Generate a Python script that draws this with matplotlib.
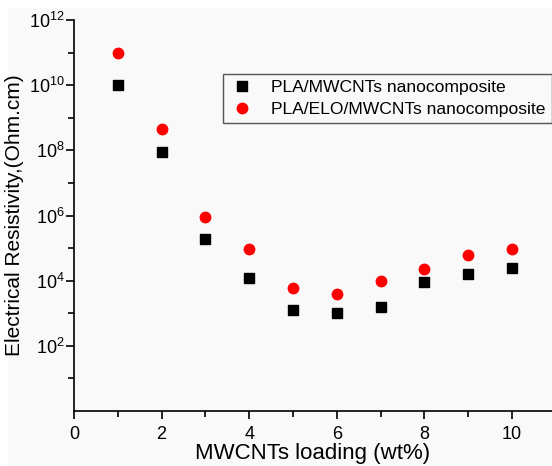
import matplotlib
matplotlib.use("Agg")
import matplotlib.pyplot as plt
from matplotlib.patches import Rectangle
from matplotlib.ticker import FixedLocator, FixedFormatter, MultipleLocator

plt.rcParams['font.family'] = ['Liberation Sans', 'DejaVu Sans']
plt.rcParams['mathtext.fontset'] = 'custom'
plt.rcParams['mathtext.rm'] = 'Liberation Sans'
plt.rcParams['mathtext.it'] = 'Liberation Sans'
plt.rcParams['mathtext.default'] = 'regular'

loading = [1, 2, 3, 4, 5, 6, 7, 8, 9, 10]
pla_mwcnt = [1.0e10, 8.7e7, 1.9e5, 1.2e4, 1.25e3, 1.0e3, 1.6e3, 9.3e3, 1.6e4, 2.5e4]
pla_elo_mwcnt = [1.0e11, 4.4e8, 9.3e5, 9.3e4, 6.1e3, 3.8e3, 1.0e4, 2.3e4, 6.1e4, 9.3e4]
ytick_vals = [1e2, 1e4, 1e6, 1e8, 1e10, 1e12]
ytick_labels = ['10$^{2}$', '10$^{4}$', '10$^{6}$', '10$^{8}$', '10$^{10}$', '10$^{12}$']

W, H = 552, 466
fig = plt.figure(figsize=(W/100, H/100), dpi=100, facecolor='white')
fig.patches.append(Rectangle((8/W, 0), 1, 1 - 8/H, transform=fig.transFigure,
                             facecolor='#f9f9f9', edgecolor='none', zorder=-10))
ax = fig.add_axes([74/W, (H-411)/H, (W-74)/W, (411-20)/H])
ax.patch.set_visible(False)

ax.plot(loading, pla_mwcnt, linestyle='none', marker='s', markersize=6.5,
        color='black', label='PLA/MWCNTs nanocomposite')
ax.plot(loading, pla_elo_mwcnt, linestyle='none', marker='o', markersize=7.5,
        color='red', markeredgecolor='red', label='PLA/ELO/MWCNTs nanocomposite')

ax.set_yscale('log')
ax.set_ylim(1e0, 1e12)
ax.set_xlim(0, (W-74)/43.8)

ax.yaxis.set_major_locator(FixedLocator(ytick_vals))
ax.yaxis.set_major_formatter(FixedFormatter(ytick_labels))
ax.yaxis.set_minor_locator(FixedLocator([1e1, 1e3, 1e5, 1e7, 1e9, 1e11]))
ax.yaxis.set_minor_formatter(FixedFormatter([]))
ax.xaxis.set_major_locator(MultipleLocator(2))
ax.xaxis.set_minor_locator(MultipleLocator(1))

for s in ['top', 'right']:
    ax.spines[s].set_visible(False)
for s in ['left', 'bottom']:
    ax.spines[s].set_linewidth(1.2)

ax.tick_params(which='major', direction='out', length=6, width=1.2, labelsize=13)
ax.tick_params(axis='x', which='major', pad=5)
ax.tick_params(axis='y', which='major', pad=0.5)
ax.tick_params(which='minor', direction='out', length=4, width=1.2)

ax.set_xlabel('MWCNTs loading (wt%)', fontsize=16, labelpad=0)
ax.set_ylabel('Electrical Resistivity,(Ohm.cm)', fontsize=15, labelpad=4)

leg = ax.legend(loc='upper left', bbox_to_anchor=(223/W, 1 - 74/H),
                bbox_transform=fig.transFigure, fontsize=12.6, frameon=True,
                fancybox=False, edgecolor='#555555', framealpha=1,
                handletextpad=0.9, borderpad=0.35, labelspacing=0.35,
                handlelength=1.5, borderaxespad=0)
leg.get_frame().set_linewidth(1.0)
leg.get_frame().set_facecolor('#f9f9f9')

fig.savefig('out.png', dpi=100, facecolor=fig.get_facecolor())
